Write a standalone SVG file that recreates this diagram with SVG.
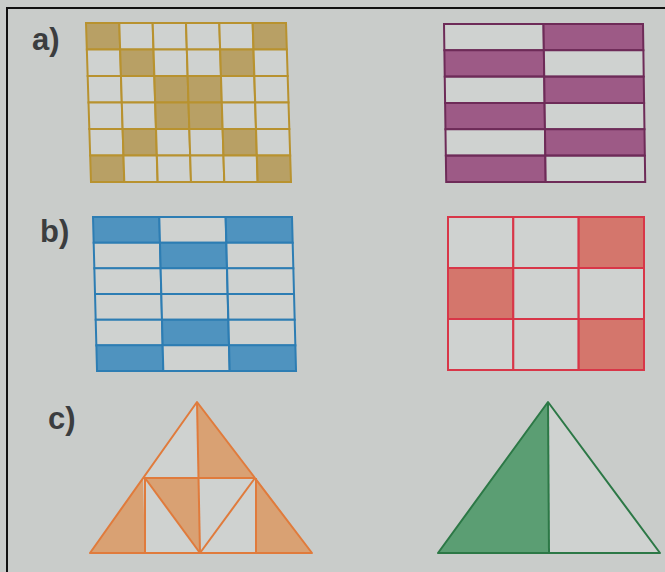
<svg xmlns="http://www.w3.org/2000/svg" width="665" height="572" viewBox="0 0 665 572">
<style>
.lbl{font-family:"Liberation Sans",Arial,sans-serif;font-weight:bold;font-size:31px;fill:#3b3d3f}
.e{fill:#cfd2d0}
.gold rect{stroke:#b8922f;stroke-width:2}
.gold .f{fill:#b8a065}
.pur rect{stroke:#6e2b58;stroke-width:2}
.pur .f{fill:#9d5a86}
.blu rect{stroke:#2d7db3;stroke-width:2}
.blu .f{fill:#4f93bf}
.red rect{stroke:#d83648;stroke-width:2}
.red .f{fill:#d4766c}
.org{stroke:#e07b3c;stroke-width:2;stroke-linejoin:round}
.orgf{fill:#d9a173}
.grn{stroke:#2c7846;stroke-width:2;stroke-linejoin:round}
.grnf{fill:#5b9e73}
</style>
<rect x="0" y="0" width="665" height="572" fill="#c9ccca"/>
<path d="M7 572 V8 H665" fill="none" stroke="#111" stroke-width="2"/>
<text class="lbl" x="32" y="50">a)</text>
<text class="lbl" x="40" y="242">b)</text>
<text class="lbl" x="48" y="429">c)</text>

<g id="grid-a-left" class="gold" transform="translate(86,23) skewX(1.8)">
<rect class="f" x="0" y="0" width="33.3" height="26.5"/>
<rect class="e" x="33.3" y="0" width="33.3" height="26.5"/>
<rect class="e" x="66.7" y="0" width="33.3" height="26.5"/>
<rect class="e" x="100" y="0" width="33.3" height="26.5"/>
<rect class="e" x="133.3" y="0" width="33.3" height="26.5"/>
<rect class="f" x="166.7" y="0" width="33.3" height="26.5"/>
<rect class="e" x="0" y="26.5" width="33.3" height="26.5"/>
<rect class="f" x="33.3" y="26.5" width="33.3" height="26.5"/>
<rect class="e" x="66.7" y="26.5" width="33.3" height="26.5"/>
<rect class="e" x="100" y="26.5" width="33.3" height="26.5"/>
<rect class="f" x="133.3" y="26.5" width="33.3" height="26.5"/>
<rect class="e" x="166.7" y="26.5" width="33.3" height="26.5"/>
<rect class="e" x="0" y="53" width="33.3" height="26.5"/>
<rect class="e" x="33.3" y="53" width="33.3" height="26.5"/>
<rect class="f" x="66.7" y="53" width="33.3" height="26.5"/>
<rect class="f" x="100" y="53" width="33.3" height="26.5"/>
<rect class="e" x="133.3" y="53" width="33.3" height="26.5"/>
<rect class="e" x="166.7" y="53" width="33.3" height="26.5"/>
<rect class="e" x="0" y="79.5" width="33.3" height="26.5"/>
<rect class="e" x="33.3" y="79.5" width="33.3" height="26.5"/>
<rect class="f" x="66.7" y="79.5" width="33.3" height="26.5"/>
<rect class="f" x="100" y="79.5" width="33.3" height="26.5"/>
<rect class="e" x="133.3" y="79.5" width="33.3" height="26.5"/>
<rect class="e" x="166.7" y="79.5" width="33.3" height="26.5"/>
<rect class="e" x="0" y="106" width="33.3" height="26.5"/>
<rect class="f" x="33.3" y="106" width="33.3" height="26.5"/>
<rect class="e" x="66.7" y="106" width="33.3" height="26.5"/>
<rect class="e" x="100" y="106" width="33.3" height="26.5"/>
<rect class="f" x="133.3" y="106" width="33.3" height="26.5"/>
<rect class="e" x="166.7" y="106" width="33.3" height="26.5"/>
<rect class="f" x="0" y="132.5" width="33.3" height="26.5"/>
<rect class="e" x="33.3" y="132.5" width="33.3" height="26.5"/>
<rect class="e" x="66.7" y="132.5" width="33.3" height="26.5"/>
<rect class="e" x="100" y="132.5" width="33.3" height="26.5"/>
<rect class="e" x="133.3" y="132.5" width="33.3" height="26.5"/>
<rect class="f" x="166.7" y="132.5" width="33.3" height="26.5"/>
</g>

<g id="grid-a-right" class="pur" transform="translate(444,24) skewX(0.8)">
<rect class="e" x="0" y="0" width="99.5" height="26.3"/>
<rect class="f" x="99.5" y="0" width="99.5" height="26.3"/>
<rect class="f" x="0" y="26.3" width="99.5" height="26.3"/>
<rect class="e" x="99.5" y="26.3" width="99.5" height="26.3"/>
<rect class="e" x="0" y="52.7" width="99.5" height="26.3"/>
<rect class="f" x="99.5" y="52.7" width="99.5" height="26.3"/>
<rect class="f" x="0" y="79" width="99.5" height="26.3"/>
<rect class="e" x="99.5" y="79" width="99.5" height="26.3"/>
<rect class="e" x="0" y="105.3" width="99.5" height="26.3"/>
<rect class="f" x="99.5" y="105.3" width="99.5" height="26.3"/>
<rect class="f" x="0" y="131.7" width="99.5" height="26.3"/>
<rect class="e" x="99.5" y="131.7" width="99.5" height="26.3"/>
</g>

<g id="grid-b-left" class="blu" transform="translate(93,217) skewX(1.5)">
<rect class="f" x="0" y="0" width="66.3" height="25.7"/>
<rect class="e" x="66.3" y="0" width="66.3" height="25.7"/>
<rect class="f" x="132.7" y="0" width="66.3" height="25.7"/>
<rect class="e" x="0" y="25.7" width="66.3" height="25.7"/>
<rect class="f" x="66.3" y="25.7" width="66.3" height="25.7"/>
<rect class="e" x="132.7" y="25.7" width="66.3" height="25.7"/>
<rect class="e" x="0" y="51.3" width="66.3" height="25.7"/>
<rect class="e" x="66.3" y="51.3" width="66.3" height="25.7"/>
<rect class="e" x="132.7" y="51.3" width="66.3" height="25.7"/>
<rect class="e" x="0" y="77" width="66.3" height="25.7"/>
<rect class="e" x="66.3" y="77" width="66.3" height="25.7"/>
<rect class="e" x="132.7" y="77" width="66.3" height="25.7"/>
<rect class="e" x="0" y="102.7" width="66.3" height="25.7"/>
<rect class="f" x="66.3" y="102.7" width="66.3" height="25.7"/>
<rect class="e" x="132.7" y="102.7" width="66.3" height="25.7"/>
<rect class="f" x="0" y="128.3" width="66.3" height="25.7"/>
<rect class="e" x="66.3" y="128.3" width="66.3" height="25.7"/>
<rect class="f" x="132.7" y="128.3" width="66.3" height="25.7"/>
</g>

<g id="grid-b-right" class="red" transform="translate(448,217)">
<rect class="e" x="0" y="0" width="65.3" height="51"/>
<rect class="e" x="65.3" y="0" width="65.3" height="51"/>
<rect class="f" x="130.7" y="0" width="65.3" height="51"/>
<rect class="f" x="0" y="51" width="65.3" height="51"/>
<rect class="e" x="65.3" y="51" width="65.3" height="51"/>
<rect class="e" x="130.7" y="51" width="65.3" height="51"/>
<rect class="e" x="0" y="102" width="65.3" height="51"/>
<rect class="e" x="65.3" y="102" width="65.3" height="51"/>
<rect class="f" x="130.7" y="102" width="65.3" height="51"/>
</g>

<g id="triangle-c-left">
<polygon class="e" points="197,402 90,553 312,553"/>
<polygon class="orgf" points="197,402 254,478 199,478"/>
<polygon class="orgf" points="143,478 90,553 145,553"/>
<polygon class="orgf" points="145,478 199,478 200,553"/>
<polygon class="orgf" points="256,478 256,553 312,553"/>
<g class="org" fill="none">
<polygon points="197,402 90,553 312,553"/>
<line x1="197" y1="402" x2="200" y2="553"/>
<line x1="143" y1="478" x2="255" y2="478"/>
<line x1="145" y1="478" x2="145" y2="553"/>
<line x1="256" y1="478" x2="256" y2="553"/>
<line x1="145" y1="478" x2="200" y2="553"/>
<line x1="255" y1="478" x2="200" y2="553"/>
</g>
</g>

<g id="triangle-c-right">
<polygon class="e" points="548,402 438,553 660,553"/>
<polygon class="grnf" points="548,402 438,553 549,553"/>
<g class="grn" fill="none">
<polygon points="548,402 438,553 660,553"/>
<line x1="548" y1="402" x2="549" y2="553"/>
</g>
</g>
</svg>
